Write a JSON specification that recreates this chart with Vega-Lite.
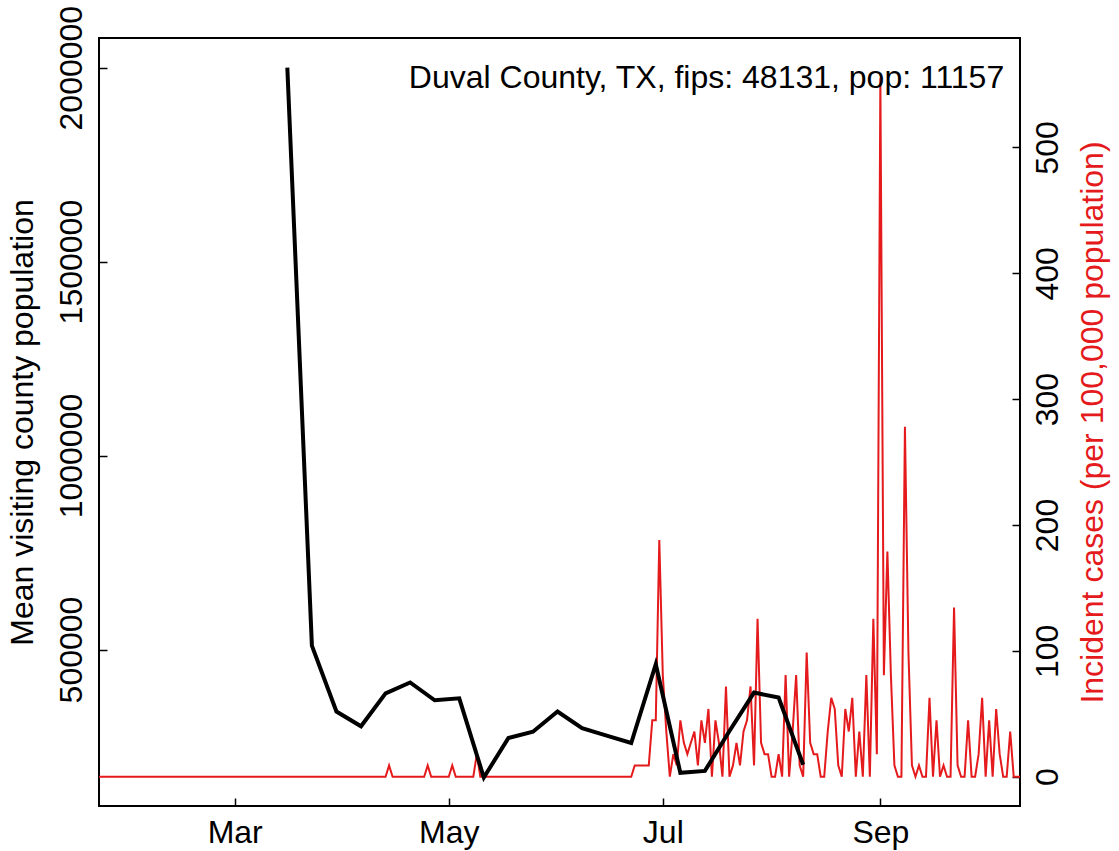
{
  "$schema": "https://vega.github.io/schema/vega-lite/v6.json",
  "width": 921,
  "height": 768,
  "autosize": {"type": "none"},
  "padding": {"left": 99, "top": 38, "right": 99, "bottom": 45},
  "background": "white",
  "config": {
    "view": {"stroke": "black", "strokeWidth": 2},
    "font": "Liberation Sans",
    "axis": {"grid": false, "domain": false, "labelFont": "Liberation Sans", "titleFont": "Liberation Sans", "labelFontSize": 32, "titleFontSize": 32, "titleFontWeight": "normal", "labelColor": "black", "titleColor": "black", "tickColor": "black", "tickWidth": 1.5}
  },
  "datasets": {
    "visits": [
      {"date": "2020-03-16T00:00:00", "pop": 2000000},
      {"date": "2020-03-23T00:00:00", "pop": 510000},
      {"date": "2020-03-30T00:00:00", "pop": 340000},
      {"date": "2020-04-06T00:00:00", "pop": 302000},
      {"date": "2020-04-13T00:00:00", "pop": 387000},
      {"date": "2020-04-20T00:00:00", "pop": 415000},
      {"date": "2020-04-27T00:00:00", "pop": 369000},
      {"date": "2020-05-04T00:00:00", "pop": 374000},
      {"date": "2020-05-11T00:00:00", "pop": 170000},
      {"date": "2020-05-18T00:00:00", "pop": 272000},
      {"date": "2020-05-25T00:00:00", "pop": 288000},
      {"date": "2020-06-01T00:00:00", "pop": 340000},
      {"date": "2020-06-08T00:00:00", "pop": 297000},
      {"date": "2020-06-15T00:00:00", "pop": 278000},
      {"date": "2020-06-22T00:00:00", "pop": 259000},
      {"date": "2020-06-29T00:00:00", "pop": 462000},
      {"date": "2020-07-06T00:00:00", "pop": 182000},
      {"date": "2020-07-13T00:00:00", "pop": 187000},
      {"date": "2020-07-20T00:00:00", "pop": 290000},
      {"date": "2020-07-27T00:00:00", "pop": 389000},
      {"date": "2020-08-03T00:00:00", "pop": 376000},
      {"date": "2020-08-10T00:00:00", "pop": 203000}
    ],
    "cases": [
      {"date": "2020-01-22T00:00:00", "inc": 0},
      {"date": "2020-04-13T00:00:00", "inc": 0},
      {"date": "2020-04-14T00:00:00", "inc": 8.96},
      {"date": "2020-04-15T00:00:00", "inc": 0},
      {"date": "2020-04-24T00:00:00", "inc": 0},
      {"date": "2020-04-25T00:00:00", "inc": 8.96},
      {"date": "2020-04-26T00:00:00", "inc": 0},
      {"date": "2020-05-01T00:00:00", "inc": 0},
      {"date": "2020-05-02T00:00:00", "inc": 8.96},
      {"date": "2020-05-03T00:00:00", "inc": 0},
      {"date": "2020-05-08T00:00:00", "inc": 0},
      {"date": "2020-05-09T00:00:00", "inc": 17.9},
      {"date": "2020-05-10T00:00:00", "inc": 0},
      {"date": "2020-06-22T00:00:00", "inc": 0},
      {"date": "2020-06-23T00:00:00", "inc": 8.96},
      {"date": "2020-06-24T00:00:00", "inc": 8.96},
      {"date": "2020-06-25T00:00:00", "inc": 8.96},
      {"date": "2020-06-26T00:00:00", "inc": 8.96},
      {"date": "2020-06-27T00:00:00", "inc": 8.96},
      {"date": "2020-06-28T00:00:00", "inc": 44.8},
      {"date": "2020-06-29T00:00:00", "inc": 44.8},
      {"date": "2020-06-30T00:00:00", "inc": 188},
      {"date": "2020-07-01T00:00:00", "inc": 80.7},
      {"date": "2020-07-02T00:00:00", "inc": 35.9},
      {"date": "2020-07-03T00:00:00", "inc": 0},
      {"date": "2020-07-04T00:00:00", "inc": 17.9},
      {"date": "2020-07-05T00:00:00", "inc": 8.96},
      {"date": "2020-07-06T00:00:00", "inc": 44.8},
      {"date": "2020-07-07T00:00:00", "inc": 26.9},
      {"date": "2020-07-08T00:00:00", "inc": 17.9},
      {"date": "2020-07-09T00:00:00", "inc": 26.9},
      {"date": "2020-07-10T00:00:00", "inc": 35.9},
      {"date": "2020-07-11T00:00:00", "inc": 8.96},
      {"date": "2020-07-12T00:00:00", "inc": 44.8},
      {"date": "2020-07-13T00:00:00", "inc": 26.9},
      {"date": "2020-07-14T00:00:00", "inc": 53.8},
      {"date": "2020-07-15T00:00:00", "inc": 0},
      {"date": "2020-07-16T00:00:00", "inc": 44.8},
      {"date": "2020-07-17T00:00:00", "inc": 26.9},
      {"date": "2020-07-18T00:00:00", "inc": 0},
      {"date": "2020-07-19T00:00:00", "inc": 71.7},
      {"date": "2020-07-20T00:00:00", "inc": 0},
      {"date": "2020-07-21T00:00:00", "inc": 8.96},
      {"date": "2020-07-22T00:00:00", "inc": 26.9},
      {"date": "2020-07-23T00:00:00", "inc": 8.96},
      {"date": "2020-07-24T00:00:00", "inc": 35.9},
      {"date": "2020-07-25T00:00:00", "inc": 44.8},
      {"date": "2020-07-26T00:00:00", "inc": 71.7},
      {"date": "2020-07-27T00:00:00", "inc": 8.96},
      {"date": "2020-07-28T00:00:00", "inc": 125.5},
      {"date": "2020-07-29T00:00:00", "inc": 26.9},
      {"date": "2020-07-30T00:00:00", "inc": 17.9},
      {"date": "2020-07-31T00:00:00", "inc": 17.9},
      {"date": "2020-08-01T00:00:00", "inc": 0},
      {"date": "2020-08-02T00:00:00", "inc": 0},
      {"date": "2020-08-03T00:00:00", "inc": 17.9},
      {"date": "2020-08-04T00:00:00", "inc": 0},
      {"date": "2020-08-05T00:00:00", "inc": 80.7},
      {"date": "2020-08-06T00:00:00", "inc": 0},
      {"date": "2020-08-07T00:00:00", "inc": 35.9},
      {"date": "2020-08-08T00:00:00", "inc": 80.7},
      {"date": "2020-08-09T00:00:00", "inc": 8.96},
      {"date": "2020-08-10T00:00:00", "inc": 0},
      {"date": "2020-08-11T00:00:00", "inc": 98.6},
      {"date": "2020-08-12T00:00:00", "inc": 26.9},
      {"date": "2020-08-13T00:00:00", "inc": 17.9},
      {"date": "2020-08-14T00:00:00", "inc": 17.9},
      {"date": "2020-08-15T00:00:00", "inc": 0},
      {"date": "2020-08-16T00:00:00", "inc": 0},
      {"date": "2020-08-17T00:00:00", "inc": 35.9},
      {"date": "2020-08-18T00:00:00", "inc": 62.7},
      {"date": "2020-08-19T00:00:00", "inc": 53.8},
      {"date": "2020-08-20T00:00:00", "inc": 8.96},
      {"date": "2020-08-21T00:00:00", "inc": 0},
      {"date": "2020-08-22T00:00:00", "inc": 53.8},
      {"date": "2020-08-23T00:00:00", "inc": 35.9},
      {"date": "2020-08-24T00:00:00", "inc": 62.7},
      {"date": "2020-08-25T00:00:00", "inc": 0},
      {"date": "2020-08-26T00:00:00", "inc": 35.9},
      {"date": "2020-08-27T00:00:00", "inc": 0},
      {"date": "2020-08-28T00:00:00", "inc": 80.7},
      {"date": "2020-08-29T00:00:00", "inc": 0},
      {"date": "2020-08-30T00:00:00", "inc": 125.5},
      {"date": "2020-08-31T00:00:00", "inc": 17.9},
      {"date": "2020-09-01T00:00:00", "inc": 555},
      {"date": "2020-09-02T00:00:00", "inc": 80.7},
      {"date": "2020-09-03T00:00:00", "inc": 179},
      {"date": "2020-09-04T00:00:00", "inc": 80.7},
      {"date": "2020-09-05T00:00:00", "inc": 8.96},
      {"date": "2020-09-06T00:00:00", "inc": 0},
      {"date": "2020-09-07T00:00:00", "inc": 0},
      {"date": "2020-09-08T00:00:00", "inc": 278},
      {"date": "2020-09-09T00:00:00", "inc": 98.6},
      {"date": "2020-09-10T00:00:00", "inc": 8.96},
      {"date": "2020-09-11T00:00:00", "inc": 0},
      {"date": "2020-09-12T00:00:00", "inc": 8.96},
      {"date": "2020-09-13T00:00:00", "inc": 0},
      {"date": "2020-09-14T00:00:00", "inc": 0},
      {"date": "2020-09-15T00:00:00", "inc": 62.7},
      {"date": "2020-09-16T00:00:00", "inc": 0},
      {"date": "2020-09-17T00:00:00", "inc": 44.8},
      {"date": "2020-09-18T00:00:00", "inc": 0},
      {"date": "2020-09-19T00:00:00", "inc": 8.96},
      {"date": "2020-09-20T00:00:00", "inc": 0},
      {"date": "2020-09-21T00:00:00", "inc": 0},
      {"date": "2020-09-22T00:00:00", "inc": 134.4},
      {"date": "2020-09-23T00:00:00", "inc": 8.96},
      {"date": "2020-09-24T00:00:00", "inc": 0},
      {"date": "2020-09-25T00:00:00", "inc": 0},
      {"date": "2020-09-26T00:00:00", "inc": 44.8},
      {"date": "2020-09-27T00:00:00", "inc": 0},
      {"date": "2020-09-28T00:00:00", "inc": 0},
      {"date": "2020-09-29T00:00:00", "inc": 17.9},
      {"date": "2020-09-30T00:00:00", "inc": 62.7},
      {"date": "2020-10-01T00:00:00", "inc": 0},
      {"date": "2020-10-02T00:00:00", "inc": 44.8},
      {"date": "2020-10-03T00:00:00", "inc": 0},
      {"date": "2020-10-04T00:00:00", "inc": 53.8},
      {"date": "2020-10-05T00:00:00", "inc": 17.9},
      {"date": "2020-10-06T00:00:00", "inc": 0},
      {"date": "2020-10-07T00:00:00", "inc": 0},
      {"date": "2020-10-08T00:00:00", "inc": 35.9},
      {"date": "2020-10-09T00:00:00", "inc": 0},
      {"date": "2020-10-10T00:00:00", "inc": 0},
      {"date": "2020-10-11T00:00:00", "inc": 0}
    ],
    "note": [
      {"date": "2020-10-06T07:00:00", "pop": 1973000, "label": "Duval County, TX, fips: 48131, pop: 11157"}
    ]
  },
  "resolve": {"scale": {"y": "independent"}},
  "layer": [
    {
      "data": {"name": "cases"},
      "mark": {"type": "line", "color": "#E41A1C", "strokeWidth": 2, "clip": true},
      "encoding": {
        "x": {"field": "date", "type": "temporal", "scale": {"domain": [{"year": 2020, "month": 1, "date": 22, "hours": 8}, {"year": 2020, "month": 10, "date": 10, "hours": 19}]},
              "axis": {"title": null, "values": [{"year": 2020, "month": 3, "date": 1}, {"year": 2020, "month": 5, "date": 1}, {"year": 2020, "month": 7, "date": 1}, {"year": 2020, "month": 9, "date": 1}], "format": "%b", "tickSize": -8, "labelPadding": 19, "labelBaseline": "top"}},
        "y": {"field": "inc", "type": "quantitative", "scale": {"domain": [-23.3, 587], "nice": false, "zero": false},
              "axis": {"orient": "right", "title": "Incident cases (per 100,000 population)", "titleColor": "#E41A1C", "values": [0, 100, 200, 300, 400, 500], "labelAngle": -90, "labelAlign": "center", "labelBaseline": "top", "tickSize": -8, "labelPadding": 20, "titleAngle": -90, "titlePadding": 14, "titleBaseline": "top"}}
      }
    },
    {
      "data": {"name": "visits"},
      "mark": {"type": "line", "color": "black", "strokeWidth": 4, "clip": true},
      "encoding": {
        "x": {"field": "date", "type": "temporal"},
        "y": {"field": "pop", "type": "quantitative", "scale": {"domain": [96550, 2076500], "nice": false, "zero": false},
              "axis": {"orient": "left", "title": "Mean visiting county population", "values": [500000, 1000000, 1500000, 2000000], "format": "d", "labelAngle": -90, "labelAlign": "center", "labelBaseline": "bottom", "tickSize": -8, "labelPadding": 19, "titlePadding": 16}}
      }
    },
    {
      "data": {"name": "note"},
      "mark": {"type": "text", "align": "right", "baseline": "middle", "fontSize": 32, "font": "Liberation Sans", "color": "black"},
      "encoding": {
        "x": {"field": "date", "type": "temporal"},
        "y": {"field": "pop", "type": "quantitative", "scale": {"domain": [96550, 2076500], "nice": false, "zero": false}, "axis": null},
        "text": {"field": "label"}
      }
    }
  ]
}
